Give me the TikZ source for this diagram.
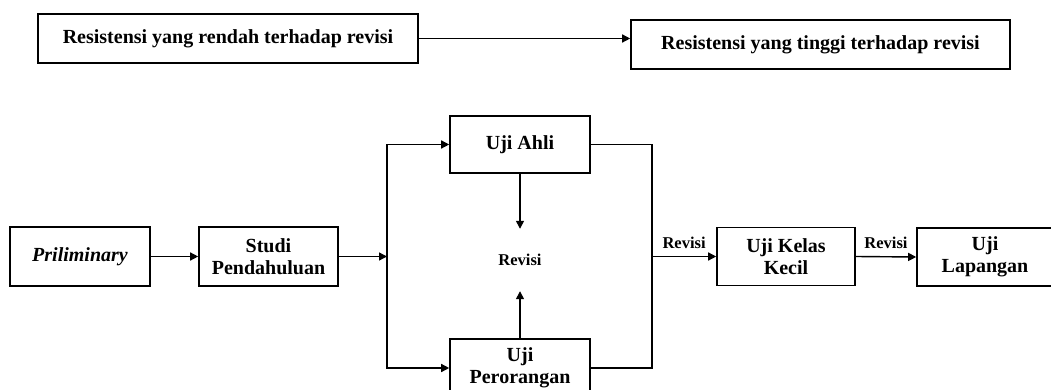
\documentclass[tikz,border=0pt]{standalone}
\usepackage{fontspec}
\setmainfont{Liberation Serif}
\usetikzlibrary{arrows.meta,calc}
\begin{document}
\begin{tikzpicture}[x=1pt,y=-1pt,
  box/.style={draw=black,line width=1.6pt,inner sep=0pt,align=center,
    font=\fontsize{20}{22}\selectfont\bfseries},
  lbl/.style={inner sep=0pt,font=\fontsize{16.5}{18}\selectfont\bfseries},
  arr/.style={line width=1.4pt,-{Triangle[length=8pt,width=8pt]}},
  ln/.style={line width=1.4pt}]
\useasboundingbox (0,0) rectangle (1051,390);
\clip (0,0) rectangle (1051,390);
% top row
\node[box,minimum width=380pt,minimum height=49pt] (top1) at (228,38.5) {Resistensi yang rendah terhadap revisi};
\node[box,minimum width=379pt,minimum height=49pt] (top2) at (820.5,44.5) {Resistensi yang tinggi terhadap revisi};
\draw[arr] (top1.east) -- (top1.east -| top2.west);
% bottom flow
\node[box,minimum width=140pt,minimum height=59pt] (pre) at (80,256.5) {\itshape Priliminary};
\node[box,minimum width=139pt,minimum height=59pt] (studi) at (268.5,256.5) {Studi\\Pendahuluan};
\node[box,minimum width=140pt,minimum height=57pt] (ahli) at (520,144.5) {Uji Ahli};
\node[box,minimum width=140pt,minimum height=58pt] (pero) at (520,368) {Uji\\Perorangan};
\node[lbl,minimum height=62pt] (rev) at (520,260) {Revisi};
\node[box,minimum width=138pt,minimum height=58pt] (kelas) at (786,256.5) {Uji Kelas\\Kecil};
\node[box,minimum width=136pt,minimum height=58pt] (lap) at (985,257) {Uji\\Lapangan};
\coordinate (split) at (387,256.5);
\coordinate (join) at (652,256.5);
\draw[arr] (pre.east) -- (studi.west);
\draw[arr] (studi.east) -- (split);
\draw[arr] (split) |- (ahli.west);
\draw[arr] (split) |- (pero.west);
\draw[ln] (ahli.east) -| (join) |- (pero.east);
\draw[arr] (ahli.south) -- (rev.north);
\draw[arr] (pero.north) -- (rev.south);
\draw[arr] (join) -- node[lbl,above=7pt] (r1) {Revisi} (kelas.west);
\draw[arr] (kelas.east) -- node[lbl,above=7pt] (r2) {Revisi} (lap.west);
\end{tikzpicture}
\end{document}
